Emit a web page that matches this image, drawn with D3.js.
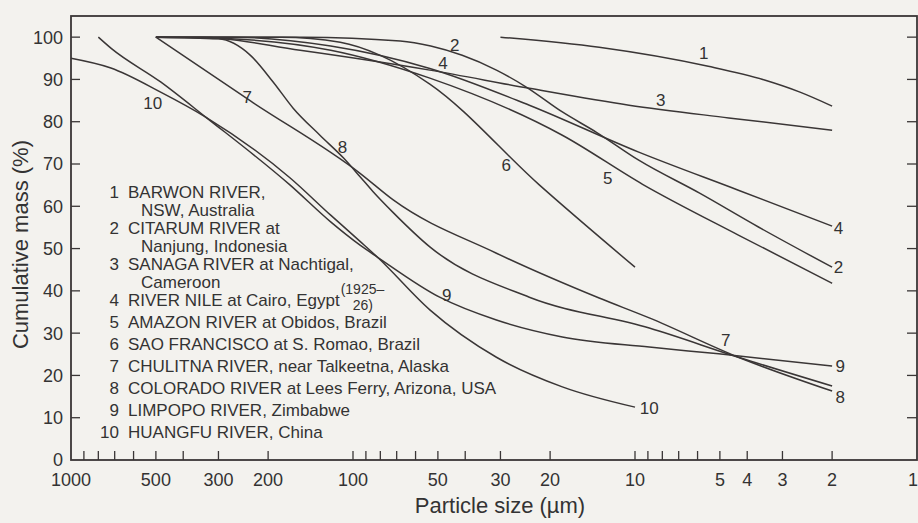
<!DOCTYPE html>
<html lang="en">
<head>
<meta charset="UTF-8">
<title>Cumulative particle size distributions</title>
<script src="https://d3js.org/d3.v7.min.js"></script>
<style>
  body { margin: 0; background: #f3f2ee; }
  svg { display: block; font-family: "Liberation Sans", Arial, sans-serif; }
  text { fill: #333; }
</style>
</head>
<body>
<svg width="918" height="523"></svg>
<script>
// curves: [particle size (µm), cumulative mass (%)]
const barwon    = [[30,100],[13.4,97.6],[5.5,93.1],[3.45,89.8],[2.6,87.0],[2,83.7]];
const citarum   = [[500,100],[150,100],[68,99.1],[53,97.9],[41,95.7],[31,92.2],[24.3,88.2],[18.1,82.3],[13.7,77.5],[9.7,70.9],[5.9,63.1],[3.65,55.1],[2,45.6]];
const sanaga    = [[500,100],[350,100],[154,96.9],[53.4,92.2],[23.7,87.9],[10.5,83.9],[4.65,80.9],[2,78.0]];
const nile      = [[500,100],[270,100],[120,97.9],[53.4,92.6],[23.7,83.9],[9.7,72.8],[4.3,63.8],[2,55.3]];
const amazon    = [[500,100],[270,99.6],[120,96.9],[53.4,90.3],[18.1,76.8],[9.4,65.2],[4.3,53.2],[2,41.8]];
const saoFranc  = [[500,100],[180,100],[111,98.8],[80,95.7],[53.4,88.9],[21.8,65.0],[10,45.6]];
const chulitna  = [[500,100],[231,84.9],[94.4,67.8],[72,61.5],[31,48.9],[13.4,38.3],[8.9,33.6],[4.3,24.3],[2,16.3]];
const colorado  = [[500,100],[300,99.6],[231,95.7],[192,89.4],[163,83.2],[131,76.8],[108,71.4],[94.4,67.0],[85,63.5],[72,58.5],[53.4,50.4],[23.7,38.5],[8.9,31.2],[4.3,24.3],[2,17.5]];
const limpopo   = [[800,100],[722,97.4],[481,89.4],[333,81.1],[167,65.0],[120,56.3],[94.4,50.8],[82,48.0],[49.3,38.5],[31,33.1],[18.1,29.1],[8.9,26.7],[5.05,25.1],[2,22.2]];
const huangfu   = [[1000,95.0],[722,92.7],[481,87.0],[333,81.1],[167,66.7],[120,57.9],[94.4,51.7],[82,48.0],[53.4,35.5],[31,24.3],[18.1,17.3],[10,12.5]];

const curves = [barwon, citarum, sanaga, nile, amazon, saoFranc, chulitna, colorado, limpopo, huangfu];

// legend entries (main line, continuation line)
const legendNames = [
  ["BARWON RIVER,", "NSW, Australia"],
  ["CITARUM RIVER at", "Nanjung, Indonesia"],
  ["SANAGA RIVER at Nachtigal,", "Cameroon"],
  ["RIVER NILE at Cairo, Egypt", null],
  ["AMAZON RIVER at Obidos, Brazil", null],
  ["SAO FRANCISCO at S. Romao, Brazil", null],
  ["CHULITNA RIVER, near Talkeetna, Alaska", null],
  ["COLORADO RIVER at Lees Ferry, Arizona, USA", null],
  ["LIMPOPO RIVER, Zimbabwe", null],
  ["HUANGFU RIVER, China", null]
];

// numbers written on the curves: [label, size µm, mass %]
const curveLabels = [
  ["1", 5.7, 96.2], ["2", 43.6, 98.1], ["3", 8.1, 85.1], ["4", 48, 93.9],
  ["5", 12.5, 66.7], ["6", 28.6, 69.7], ["7", 237, 85.8], ["8", 109, 74.0],
  ["9", 46.5, 39.0], ["10", 513, 84.4], ["7", 4.77, 28.4],
  ["4", 1.9, 54.8], ["2", 1.9, 45.6], ["9", 1.87, 22.2], ["8", 1.87, 14.9], ["10", 8.9, 12.3]
];

const xTickLabels = [1000, 500, 300, 200, 100, 50, 30, 20, 10, 5, 4, 3, 2, 1];
const xMinorTicks = [900, 800, 700, 600, 500, 400, 300, 200, 100, 90, 80, 70, 60, 50, 40, 30, 20, 10, 9, 8, 7, 6, 5, 4, 3, 2];
const yTickLabels = [0, 10, 20, 30, 40, 50, 60, 70, 80, 90, 100];

const svg = d3.select("svg");
const ink = "#3a3636";

const x = d3.scaleLog().domain([1000, 1]).range([71, 917]);
const y = d3.scaleLinear().domain([0, 105]).range([460, 16]);

// frame
svg.append("rect")
  .attr("x", x(1000)).attr("y", y(105))
  .attr("width", x(1) - x(1000)).attr("height", y(0) - y(105))
  .attr("fill", "none").attr("stroke", ink).attr("stroke-width", 1.8);

// x ticks (inward)
svg.selectAll(".xt").data(xMinorTicks).enter().append("line")
  .attr("x1", d => x(d)).attr("x2", d => x(d))
  .attr("y1", y(0)).attr("y2", y(0) - 9)
  .attr("stroke", ink).attr("stroke-width", 1.3);

svg.selectAll(".xl").data(xTickLabels).enter().append("text")
  .attr("x", d => d === 1 ? x(d) - 4 : x(d)).attr("y", y(0) + 26)
  .attr("text-anchor", "middle").attr("font-size", 18)
  .text(d => d);

// y ticks, both sides, inward
const yt = yTickLabels.filter(d => d > 0);
svg.selectAll(".ytl").data(yt).enter().append("line")
  .attr("x1", x(1000)).attr("x2", x(1000) + 9)
  .attr("y1", d => y(d)).attr("y2", d => y(d))
  .attr("stroke", ink).attr("stroke-width", 1.3);
svg.selectAll(".ytr").data(yt).enter().append("line")
  .attr("x1", x(1)).attr("x2", x(1) - 10)
  .attr("y1", d => y(d)).attr("y2", d => y(d))
  .attr("stroke", ink).attr("stroke-width", 1.3);

svg.selectAll(".yl").data(yTickLabels).enter().append("text")
  .attr("x", x(1000) - 8).attr("y", d => y(d))
  .attr("dy", "0.36em").attr("text-anchor", "end").attr("font-size", 18)
  .text(d => d);

// axis titles
svg.append("text")
  .attr("x", (x(1000) + x(1)) / 2 + 6).attr("y", 513)
  .attr("text-anchor", "middle").attr("font-size", 22)
  .text("Particle size (\u00b5m)");

svg.append("text")
  .attr("transform", `translate(28,${(y(0) + y(100)) / 2 - 4}) rotate(-90)`)
  .attr("text-anchor", "middle").attr("font-size", 22)
  .text("Cumulative mass (%)");

// curves
const line = d3.line()
  .x(d => x(d[0])).y(d => y(d[1]))
  .curve(d3.curveMonotoneX);

svg.selectAll(".curve").data(curves).enter().append("path")
  .attr("d", line)
  .attr("fill", "none").attr("stroke", ink).attr("stroke-width", 1.5);

svg.selectAll(".cl").data(curveLabels).enter().append("text")
  .attr("x", d => x(d[1])).attr("y", d => y(d[2]))
  .attr("dy", "0.36em").attr("text-anchor", "middle").attr("font-size", 17)
  .text(d => d[0]);

// legend
const legend = svg.append("g").attr("font-size", 17);
let ly = 192;
legendNames.forEach((n, i) => {
  legend.append("text").attr("x", 119).attr("y", ly).attr("dy", "0.36em")
    .attr("text-anchor", "end").text(i + 1);
  const t = legend.append("text").attr("x", 128).attr("y", ly).attr("dy", "0.36em").text(n[0]);
  if (i === 3) {
    const end = 128 + t.node().getComputedTextLength();
    legend.append("text").attr("x", end + 1).attr("y", ly - 11).attr("dy", "0.36em")
      .attr("font-size", 14).text("(1925\u2013");
    legend.append("text").attr("x", end + 13).attr("y", ly + 5).attr("dy", "0.36em")
      .attr("font-size", 14).text("26)");
  }
  if (n[1]) {
    ly += 18;
    legend.append("text").attr("x", 141).attr("y", ly).attr("dy", "0.36em").text(n[1]);
    ly += 18;
  } else {
    ly += 22;
  }
});
</script>
</body>
</html>
